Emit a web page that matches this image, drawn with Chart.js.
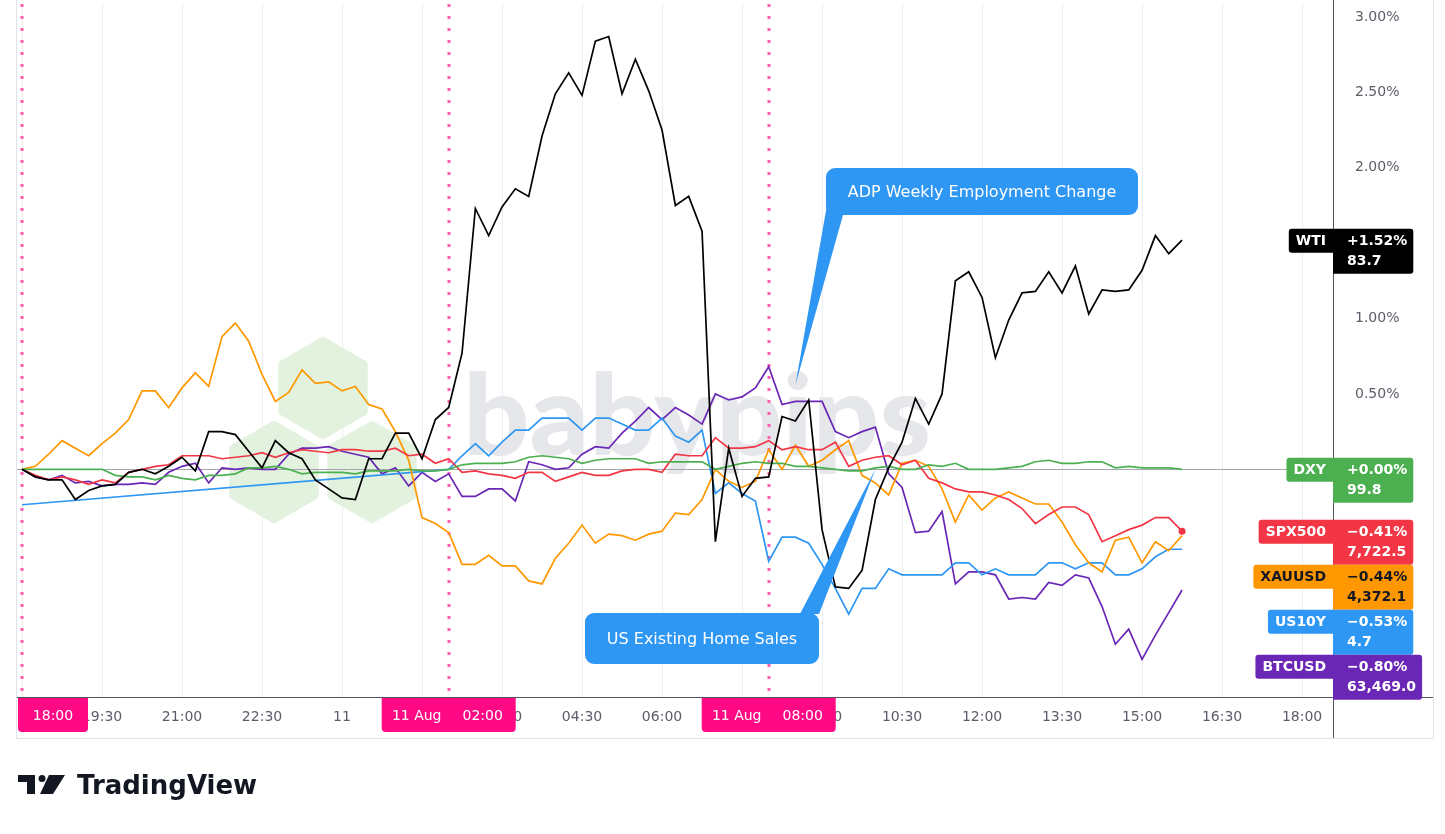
<!DOCTYPE html>
<html lang="en">
<head>
<meta charset="UTF-8">
<title>Markets 10-11 Aug</title>
<style>
  html, body { margin: 0; padding: 0; background: #fff; }
  canvas { display: block; }
</style>
</head>
<body>
<canvas id="chart" width="1445" height="834"></canvas>

<script src="https://cdn.jsdelivr.net/npm/chart.js"></script>
<script>
// 15-minute bars, from 18:00 (10 Aug) to 15:45 (11 Aug)
const times = [
  '18:00','18:15','18:30','18:45','19:00','19:15','19:30','19:45','20:00','20:15','20:30','20:45',
  '21:00','21:15','21:30','21:45','22:00','22:15','22:30','22:45','23:00','23:15','23:30','23:45',
  '00:00','00:15','00:30','00:45','01:00','01:15','01:30','01:45','02:00','02:15','02:30','02:45',
  '03:00','03:15','03:30','03:45','04:00','04:15','04:30','04:45','05:00','05:15','05:30','05:45',
  '06:00','06:15','06:30','06:45','07:00','07:15','07:30','07:45','08:00','08:15','08:30','08:45',
  '09:00','09:15','09:30','09:45','10:00','10:15','10:30','10:45','11:00','11:15','11:30','11:45',
  '12:00','12:15','12:30','12:45','13:00','13:15','13:30','13:45','14:00','14:15','14:30','14:45',
  '15:00','15:15','15:30','15:45'
];

// % change of each symbol
const wti = [
  0, -0.05, -0.07, -0.07, -0.20, -0.14, -0.11, -0.10, -0.02, 0.00, -0.03, 0.02,
  0.08, -0.01, 0.25, 0.25, 0.23, 0.12, 0.01, 0.19, 0.11, 0.07, -0.07, -0.13,
  -0.19, -0.20, 0.07, 0.07, 0.24, 0.24, 0.07, 0.33, 0.41, 0.77, 1.73, 1.55,
  1.74, 1.86, 1.81, 2.21, 2.49, 2.63, 2.48, 2.84, 2.87, 2.49, 2.72, 2.51,
  2.25, 1.75, 1.81, 1.58, -0.48, 0.14, -0.18, -0.06, -0.05, 0.35, 0.32, 0.46,
  -0.40, -0.78, -0.79, -0.67, -0.20, 0.01, 0.18, 0.47, 0.30, 0.50, 1.25, 1.31,
  1.14, 0.74, 0.99, 1.17, 1.18, 1.31, 1.17, 1.35, 1.03, 1.19, 1.18, 1.19,
  1.32, 1.55, 1.43, 1.52
];
const dxy = [
  0, 0, 0, 0, 0, 0, 0, -0.04, -0.05, -0.05, -0.07, -0.04,
  -0.06, -0.07, -0.04, -0.04, -0.03, 0.01, 0.01, 0.02, 0.00, -0.03, -0.02, -0.02,
  -0.02, -0.03, -0.01, -0.01, -0.01, 0.00, -0.01, -0.01, 0.00, 0.03, 0.04, 0.04,
  0.04, 0.05, 0.08, 0.09, 0.08, 0.07, 0.04, 0.06, 0.07, 0.07, 0.07, 0.04,
  0.05, 0.05, 0.05, 0.05, 0.00, 0.02, 0.04, 0.05, 0.04, 0.04, 0.02, 0.02,
  0.01, 0.00, -0.01, -0.01, 0.01, 0.02, 0.00, 0.00, 0.03, 0.02, 0.04, 0.00,
  0.00, 0.00, 0.01, 0.02, 0.05, 0.06, 0.04, 0.04, 0.05, 0.05, 0.01, 0.02,
  0.01, 0.01, 0.01, 0.00
];
const spx500 = [
  0, -0.04, -0.07, -0.05, -0.07, -0.10, -0.07, -0.09, -0.02, 0.00, 0.02, 0.03,
  0.09, 0.09, 0.09, 0.07, 0.08, 0.09, 0.11, 0.08, 0.11, 0.13, 0.12, 0.11,
  0.13, 0.13, 0.12, 0.12, 0.14, 0.09, 0.10, 0.04, 0.07, -0.02, -0.01, -0.03,
  -0.04, -0.06, -0.02, -0.02, -0.08, -0.05, -0.02, -0.04, -0.04, -0.01, 0.00, 0.00,
  -0.02, 0.10, 0.09, 0.09, 0.21, 0.14, 0.14, 0.15, 0.19, 0.13, 0.15, 0.13,
  0.13, 0.18, 0.02, 0.06, 0.08, 0.09, 0.03, 0.06, -0.06, -0.09, -0.13, -0.15,
  -0.15, -0.17, -0.20, -0.26, -0.36, -0.30, -0.25, -0.25, -0.30, -0.48, -0.44, -0.40,
  -0.37, -0.32, -0.32, -0.41
];
const xauusd = [
  0, 0.02, 0.10, 0.19, 0.14, 0.09, 0.17, 0.24, 0.33, 0.52, 0.52, 0.41,
  0.54, 0.64, 0.55, 0.88, 0.97, 0.85, 0.63, 0.45, 0.51, 0.66, 0.57, 0.58,
  0.52, 0.55, 0.43, 0.40, 0.25, 0.06, -0.32, -0.36, -0.42, -0.63, -0.63, -0.57,
  -0.64, -0.64, -0.74, -0.76, -0.59, -0.49, -0.37, -0.49, -0.43, -0.44, -0.47, -0.43,
  -0.41, -0.29, -0.30, -0.20, 0.00, -0.08, -0.12, -0.08, 0.13, 0.00, 0.16, 0.02,
  0.06, 0.13, 0.19, -0.04, -0.09, -0.17, 0.04, 0.06, 0.02, -0.13, -0.35, -0.17,
  -0.27, -0.19, -0.15, -0.19, -0.23, -0.23, -0.35, -0.50, -0.62, -0.68, -0.47, -0.45,
  -0.62, -0.48, -0.54, -0.44
];
// bond market closed overnight: no bars between the first one and 02:00
const us10y = [
  -0.235, null, null, null, null, null, null, null, null, null, null, null,
  null, null, null, null, null, null, null, null, null, null, null, null,
  null, null, null, null, null, null, null, null, 0.00, 0.09, 0.17, 0.09,
  0.18, 0.26, 0.26, 0.34, 0.34, 0.34, 0.26, 0.34, 0.34, 0.30, 0.26, 0.26,
  0.34, 0.22, 0.18, 0.26, -0.16, -0.09, -0.16, -0.21, -0.61, -0.45, -0.45, -0.49,
  -0.63, -0.79, -0.96, -0.79, -0.79, -0.66, -0.70, -0.70, -0.70, -0.70, -0.62, -0.62,
  -0.70, -0.66, -0.70, -0.70, -0.70, -0.62, -0.62, -0.66, -0.62, -0.62, -0.70, -0.70,
  -0.66, -0.58, -0.53, -0.53
];
const btcusd = [
  0, -0.05, -0.07, -0.04, -0.09, -0.08, -0.11, -0.10, -0.10, -0.09, -0.10, -0.02,
  0.02, 0.04, -0.09, 0.01, 0.00, 0.01, 0.00, 0.00, 0.10, 0.14, 0.14, 0.15,
  0.12, 0.10, 0.08, -0.03, 0.01, -0.11, -0.02, -0.08, -0.03, -0.18, -0.18, -0.13,
  -0.13, -0.21, 0.05, 0.03, 0.00, 0.01, 0.10, 0.15, 0.14, 0.24, 0.32, 0.41,
  0.33, 0.41, 0.36, 0.30, 0.50, 0.46, 0.48, 0.54, 0.68, 0.43, 0.45, 0.45,
  0.45, 0.25, 0.21, 0.25, 0.28, -0.03, -0.12, -0.42, -0.41, -0.28, -0.76, -0.68,
  -0.68, -0.70, -0.86, -0.85, -0.86, -0.75, -0.77, -0.70, -0.72, -0.91, -1.16, -1.06,
  -1.26, -1.10, -0.95, -0.80
];

const symbols   = ['WTI', 'DXY', 'SPX500', 'XAUUSD', 'US10Y', 'BTCUSD'];
const series    = [wti, dxy, spx500, xauusd, us10y, btcusd];
const lastPrice = ['83.7', '99.8', '7,722.5', '4,372.1', '4.7', '63,469.0'];
const colors    = ['#000000', '#4caf50', '#f23645', '#ff9800', '#2e96f3', '#6a26b5'];
const tagText   = ['#ffffff', '#ffffff', '#ffffff', '#131722', '#ffffff', '#ffffff'];

// axis ticks (hours after 18:00 on 10 Aug)
const tickHours  = [0, 1.5, 3, 4.5, 6, 7.5, 9, 10.5, 12, 13.5, 15, 16.5, 18, 19.5, 21, 22.5, 24];
const tickLabels = ['18:00','19:30','21:00','22:30','11','01:30','03:00','04:30','06:00',
                    '07:30','09:00','10:30','12:00','13:30','15:00','16:30','18:00'];
const pctTicks   = [-1.5, -1, -0.5, 0, 0.5, 1, 1.5, 2, 2.5, 3];

// session markers on the time axis
const markers = [
  { at: '18:00', text: ['18:00'] },
  { at: '02:00', text: ['11 Aug', '02:00'] },
  { at: '08:00', text: ['11 Aug', '08:00'] }
];

// news callouts
const notes = [
  { text: 'ADP Weekly Employment Change', at: '08:30', pct: 0.56 },
  { text: 'US Existing Home Sales', at: '10:00', pct: 0.0 }
];

function hours(s) {
  const [h, m] = s.split(':').map(Number);
  let v = h + m / 60 - 18;
  if (v < 0) v += 24;
  return v;
}

const FONT = '"DejaVu Sans", "Noto Sans", sans-serif';
const AXIS_COLOR = '#5b5e69';
const PINK = '#ff0a84';

function noPadding(s) {
  s.paddingLeft = 0;
  s.paddingRight = 0;
  s.paddingTop = 0;
  s.paddingBottom = 0;
}

const overlay = {
  id: 'overlay',
  beforeDatasetsDraw(chart) {
    const { ctx, chartArea: a, scales: { x, y } } = chart;
    ctx.save();

    // babypips watermark
    ctx.fillStyle = '#e2f2de';
    ctx.strokeStyle = '#e2f2de';
    ctx.lineJoin = 'round';
    ctx.lineWidth = 8;
    for (const [cx, cy] of [[323, 388], [274, 472], [372, 472]]) {
      ctx.beginPath();
      for (let k = 0; k < 6; k++) {
        const ang = -Math.PI / 2 + k * Math.PI / 3;
        const px = cx + 47 * Math.cos(ang), py = cy + 47 * Math.sin(ang);
        k ? ctx.lineTo(px, py) : ctx.moveTo(px, py);
      }
      ctx.closePath();
      ctx.fill();
      ctx.stroke();
    }
    ctx.font = '900 112px Lato, ' + FONT;
    const w = ctx.measureText('babypips').width;
    ctx.fillStyle = '#e6e7ea';
    ctx.translate(463, 455);
    ctx.scale(468 / w, 1);
    ctx.textBaseline = 'alphabetic';
    ctx.fillText('babypips', 0, 0);
    ctx.setTransform(1, 0, 0, 1, 0, 0);

    // base line of the comparison
    const y0 = Math.round(y.getPixelForValue(0)) + 0.5;
    ctx.strokeStyle = '#a3a6af';
    ctx.lineWidth = 1;
    ctx.beginPath();
    ctx.moveTo(a.left, y0);
    ctx.lineTo(a.right, y0);
    ctx.stroke();

    // session separators
    ctx.strokeStyle = '#ff5fae';
    ctx.lineWidth = 3;
    ctx.setLineDash([3, 9]);
    for (const m of markers) {
      const px = Math.round(x.getPixelForValue(hours(m.at)));
      ctx.beginPath();
      ctx.moveTo(px, a.top);
      ctx.lineTo(px, a.bottom);
      ctx.stroke();
    }
    ctx.restore();
  },

  afterDraw(chart) {
    const { ctx, chartArea: a, scales: { x, y } } = chart;
    ctx.save();

    // frame
    ctx.lineWidth = 1;
    ctx.strokeStyle = '#e0e3eb';
    ctx.beginPath();
    ctx.moveTo(16.5, 0); ctx.lineTo(16.5, 738.5);
    ctx.lineTo(1433.5, 738.5); ctx.lineTo(1433.5, 0);
    ctx.stroke();
    ctx.strokeStyle = '#50535e';
    ctx.beginPath();
    ctx.moveTo(a.left, a.bottom + 0.5); ctx.lineTo(1433, a.bottom + 0.5);
    ctx.moveTo(a.right + 0.5, 0); ctx.lineTo(a.right + 0.5, 738);
    ctx.stroke();

    // session labels on the time axis
    ctx.font = '14px ' + FONT;
    ctx.textBaseline = 'middle';
    ctx.textAlign = 'center';
    for (const m of markers) {
      const cx = x.getPixelForValue(hours(m.at));
      const bw = m.text.length > 1 ? 134 : 70;
      let left = cx - bw / 2;
      if (left < a.left + 1) left = a.left + 1;
      ctx.fillStyle = PINK;
      ctx.beginPath();
      ctx.roundRect(left, a.bottom + 1, bw, 34, [0, 0, 4, 4]);
      ctx.fill();
      ctx.fillStyle = '#ffffff';
      if (m.text.length > 1) {
        ctx.fillText(m.text[0], left + bw / 2 - 32, a.bottom + 19);
        ctx.fillText(m.text[1], left + bw / 2 + 34, a.bottom + 19);
      } else {
        ctx.fillText(m.text[0], left + bw / 2, a.bottom + 19);
      }
    }

    // last value tags on the price scale
    const tags = symbols.map((s, i) => {
      const v = series[i][series[i].length - 1];
      return { i, v, py: y.getPixelForValue(v) };
    }).sort((p, q) => p.py - q.py);
    let prevBottom = -Infinity;
    ctx.font = 'bold 14px ' + FONT;
    ctx.textAlign = 'left';
    for (const t of tags) {
      const top = Math.max(t.py - 11.5, prevBottom);
      prevBottom = top + 45;
      const pct = (t.v >= 0 ? '+' : '\u2212') + Math.abs(t.v).toFixed(2) + '%';
      const name = symbols[t.i];
      const nw = ctx.measureText(name).width + 14;
      const vw = Math.max(ctx.measureText(pct).width, ctx.measureText(lastPrice[t.i]).width) + 20;
      ctx.fillStyle = colors[t.i];
      ctx.beginPath();
      ctx.roundRect(a.right - nw, top, nw, 24, [3, 0, 0, 3]);
      ctx.fill();
      ctx.beginPath();
      ctx.roundRect(a.right, top, vw, 45, [0, 3, 3, 0]);
      ctx.fill();
      ctx.fillStyle = tagText[t.i];
      ctx.fillText(name, a.right - nw + 7, top + 12.5);
      ctx.fillText(pct, a.right + 14, top + 12.5);
      ctx.fillText(lastPrice[t.i], a.right + 14, top + 33);
    }

    // news callouts
    const boxes = [
      { x: 826, y: 168, w: 312, h: 47, base: [[827, 205], [843, 215]] },
      { x: 585, y: 613, w: 234, h: 51, base: [[800, 614], [819, 614]] }
    ];
    ctx.font = '16px ' + FONT;
    ctx.textAlign = 'center';
    notes.forEach((n, k) => {
      const b = boxes[k];
      const tx = x.getPixelForValue(hours(n.at));
      const ty = y.getPixelForValue(n.pct);
      ctx.fillStyle = '#2e96f3';
      ctx.beginPath();
      ctx.moveTo(b.base[0][0], b.base[0][1]);
      ctx.lineTo(b.base[1][0], b.base[1][1]);
      ctx.lineTo(tx, ty);
      ctx.closePath();
      ctx.fill();
      ctx.beginPath();
      ctx.roundRect(b.x, b.y, b.w, b.h, 9);
      ctx.fill();
      ctx.fillStyle = '#ffffff';
      ctx.fillText(n.text, b.x + b.w / 2, b.y + b.h / 2 + 1);
    });

    // TradingView logo
    ctx.fillStyle = '#131722';
    ctx.fillRect(18, 775, 17, 7);
    ctx.fillRect(27, 775, 8, 19);
    ctx.beginPath();
    ctx.arc(42, 778.5, 3.5, 0, Math.PI * 2);
    ctx.fill();
    ctx.beginPath();
    ctx.moveTo(49, 775); ctx.lineTo(65, 775); ctx.lineTo(53, 794); ctx.lineTo(40, 794);
    ctx.closePath();
    ctx.fill();
    ctx.font = 'bold 26px ' + FONT;
    ctx.textAlign = 'left';
    ctx.textBaseline = 'alphabetic';
    ctx.fillText('TradingView', 77, 794);

    ctx.restore();
  }
};

const ctx = document.getElementById('chart');

const datasets = series.map((arr, i) => ({
  label: symbols[i],
  data: times.map((t, k) => ({ x: hours(t), y: arr[k] })),
  borderColor: colors[i],
  backgroundColor: colors[i],
  borderWidth: 1.7,
  spanGaps: true,
  pointRadius: symbols[i] === 'SPX500'
    ? (c => (c.dataIndex === arr.length - 1 ? 3.5 : 0))
    : 0,
  pointBorderWidth: 0,
  tension: 0
}));

new Chart(ctx, {
  type: 'line',
  data: { datasets },
  options: {
    responsive: false,
    animation: false,
    layout: { padding: { left: 17, right: 12, top: 0, bottom: 96 } },
    plugins: { legend: { display: false }, tooltip: { enabled: false } },
    scales: {
      x: {
        type: 'linear',
        min: -0.094,
        max: 24.58,
        afterFit: s => { s.height = 41; noPadding(s); },
        afterBuildTicks: s => { s.ticks = tickHours.map(v => ({ value: v })); },
        ticks: {
          // the first one sits under the session marker
          callback: v => (v === 0 ? '' : tickLabels[tickHours.indexOf(v)]),
          color: AXIS_COLOR,
          font: { family: FONT, size: 14 },
          padding: 12,
          maxRotation: 0,
          autoSkip: false
        },
        grid: { color: '#ebedf0', drawTicks: false },
        border: { display: false }
      },
      y: {
        position: 'right',
        min: -1.51,
        max: 3.086,
        afterFit: s => { s.width = 100; noPadding(s); },
        afterBuildTicks: s => { s.ticks = pctTicks.map(v => ({ value: v })); },
        ticks: {
          callback: v => (v < -1.2 ? '' : v.toFixed(2) + '%'),
          color: AXIS_COLOR,
          font: { family: FONT, size: 14 },
          padding: 14
        },
        grid: { display: false },
        border: { display: false }
      }
    }
  },
  plugins: [overlay]
});
</script>
</body>
</html>
